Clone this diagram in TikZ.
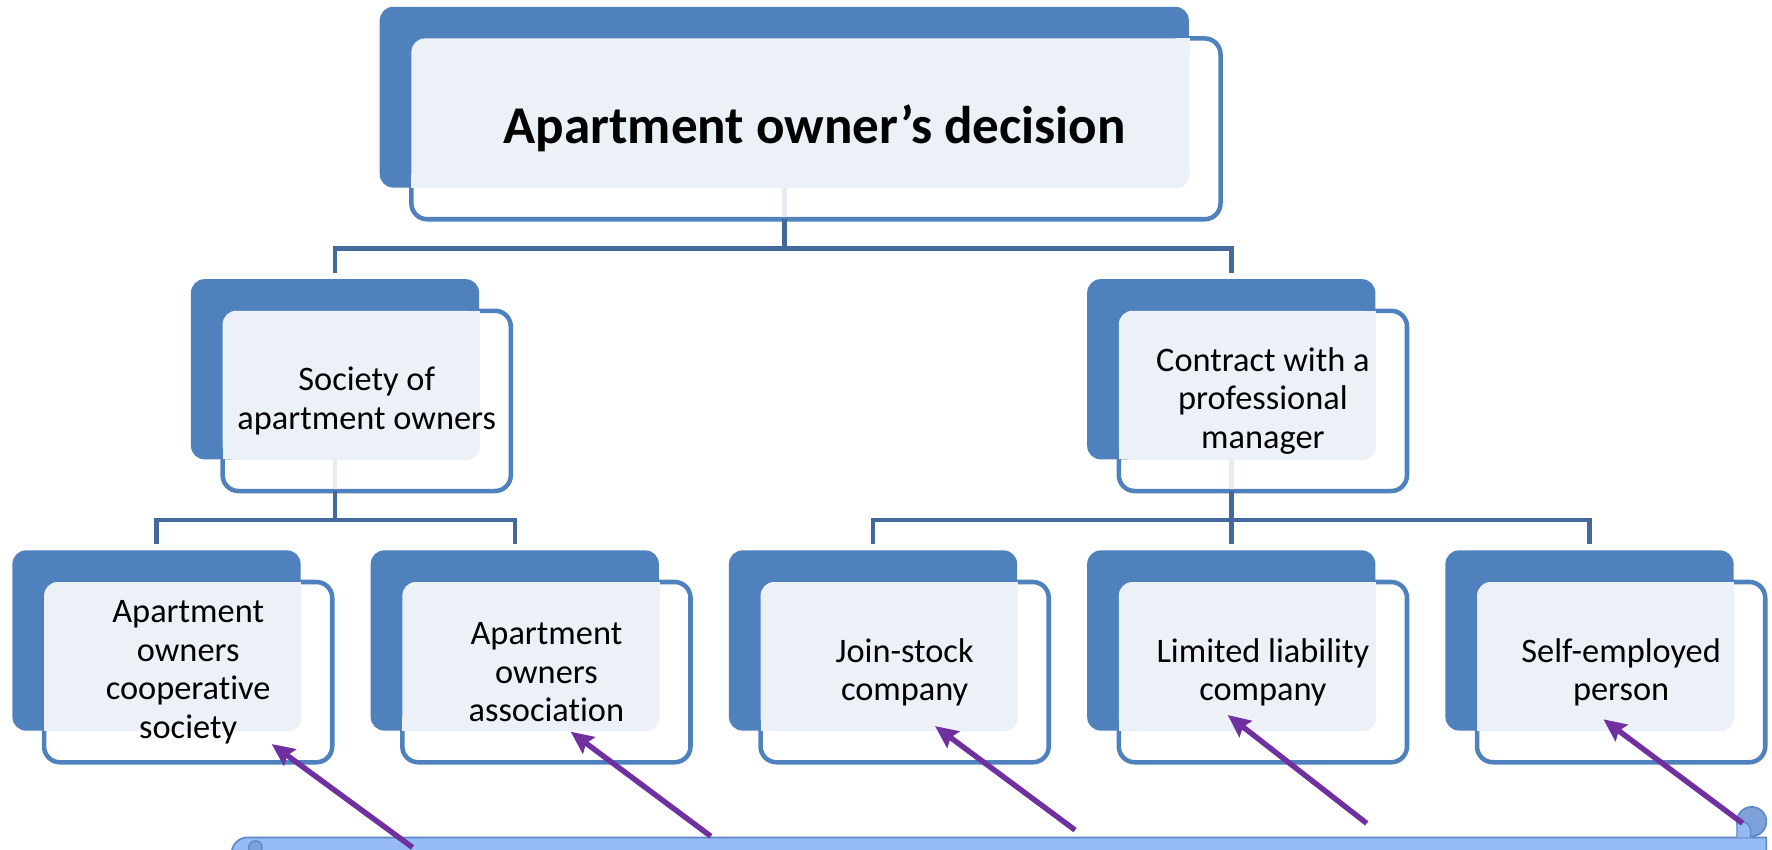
\documentclass[tikz,border=0pt]{standalone}
\usepackage{fontspec}
\setmainfont{Carlito}[Ligatures={NoCommon,NoContextual},RawFeature={-liga;-clig;-calt}]
\usetikzlibrary{arrows.meta}
\definecolor{dkblue}{HTML}{4F81BD}
\definecolor{ltfill}{HTML}{ECF1F8}
\definecolor{ltline}{HTML}{E6ECF5}
\definecolor{conn}{HTML}{42689C}
\definecolor{purp}{HTML}{7030A0}
\definecolor{scrollfill}{HTML}{95BAF4}
\definecolor{scrollln}{HTML}{5E89C8}
\definecolor{curlfill}{HTML}{7DA1D8}
\tikzset{
  backbox/.style={fill=dkblue, draw=none, rounded corners=12pt, inner sep=0pt, outer sep=0pt, anchor=north west},
  frontbox/.style={fill=white, draw=dkblue, line width=4pt, rounded corners=14pt, inner sep=0pt, outer sep=0pt, anchor=north west},
  connline/.style={draw=conn, line width=4pt},
  faintline/.style={draw=ltline, line width=4pt},
  lbl/.style={font=\fontsize{30.4}{34}\selectfont, align=center, inner sep=0pt},
  titlelbl/.style={font=\fontsize{47}{55}\selectfont\bfseries, align=center, inner sep=0pt},
  arr/.style={draw=purp, line width=4.8pt, -{Stealth[length=20pt,width=18pt,inset=3pt]}},
}
\newcommand\orgunit[5]{%
  \coordinate (#1c) at (#2,#3);
  \node[frontbox, minimum width=#4pt, minimum height=#5pt] (#1f) at ([shift={(28,28)}]#1c) {};
  \node[backbox, minimum width=#4pt, minimum height=#5pt] (#1b) at (#1c) {};
  \fill[ltfill, rounded corners=12pt] (#1f.north west) rectangle ([shift={(0.6,0.6)}]#1b.south east);
  \fill[ltfill] ([xshift=0.6pt]#1b.south east |- #1f.north west) rectangle ++(-12,12);
  \fill[ltfill] (#1f.north west |- #1b.south east) rectangle ++(12,-12);
}
\begin{document}
\begin{tikzpicture}[x=1pt,y=-1pt]
\useasboundingbox (0,0) rectangle (1568,752);
% boxes
\orgunit{top}{336}{6}{716}{160}
\orgunit{sa}{169}{247}{255}{159.5}
\orgunit{cp}{962}{247}{255}{159.5}
\orgunit{ka}{11}{487}{255}{159.5}
\orgunit{kb}{328}{487}{255}{159.5}
\orgunit{kc}{645}{487}{255}{159.5}
\orgunit{kd}{962}{487}{255}{159.5}
\orgunit{ke}{1279}{487}{255}{159.5}
% faint connector traces inside the parent boxes
\draw[faintline] (topb.south) -- ([yshift=2pt]topb.south |- topf.south);
\draw[faintline] (sab.south) -- ([yshift=2pt]sab.south |- saf.south);
\draw[faintline] (cpb.south) -- ([yshift=2pt]cpb.south |- cpf.south);
% connectors
\path (topb.south |- topf.south) ++(0,25.7) coordinate (j1);
\draw[connline] (topb.south |- topf.south) -- (j1);
\draw[connline] ([yshift=5.5pt]sab.north) |- (j1) -| ([yshift=5.5pt]cpb.north);
\path (sab.south |- saf.south) ++(0,25.7) coordinate (j2);
\draw[connline] (sab.south |- saf.south) -- (j2);
\draw[connline] ([yshift=5.5pt]kab.north) |- (j2) -| ([yshift=5.5pt]kbb.north);
\path (cpb.south |- cpf.south) ++(0,25.7) coordinate (j3);
\draw[connline] (cpb.south |- cpf.south) -- (j3);
\draw[connline] ([yshift=5.5pt]kcb.north) |- (j3) -| ([yshift=5.5pt]keb.north);
\draw[connline] (j3) -- ([yshift=5.5pt]kdb.north);
% texts
\node[titlelbl] (toptxt) at ([xshift=-1pt]topf.center) {Apartment owner’s decision};
\node[lbl] (satxt) at (saf.center) {Society of\\apartment owners};
\node[lbl] (cptxt) at (cpf.center) {Contract with a\\professional\\manager};
\node[lbl] (katxt) at (kaf.center) {Apartment\\owners\\cooperative\\society};
\node[lbl] (kbtxt) at (kbf.center) {Apartment\\owners\\association};
\node[lbl] (kctxt) at (kcf.center) {Join-stock\\company};
\node[lbl] (kdtxt) at (kdf.center) {Limited liability\\company};
\node[lbl] (ketxt) at (kef.center) {Self-employed\\person};
% scroll banner
\begin{scope}
\clip (0,0) rectangle (1568,752);
\draw[scrollln, fill=scrollfill, line width=1.5pt] (205,800) -- (205,755) arc[start angle=180, end angle=90, radius=14pt] -- (1563,741) -- (1563,800) -- cycle;
\draw[scrollln, fill=curlfill, line width=1.2pt] (226,750) circle[radius=6pt];
\end{scope}
\draw[scrollln, fill=curlfill, line width=1.5pt] (1550,727) circle[radius=13pt];
\draw[scrollln, fill=scrollfill, line width=1.2pt] (1537,741) -- (1537,728) .. controls (1544,725) and (1550,730) .. (1549,737) -- (1549,741);
% arrows
\coordinate (t1) at (365,749.8);
\coordinate (t2) at (629,740);
\coordinate (t3) at (951.3,734.5);
\coordinate (t4) at (1209.4,728.6);
\coordinate (t5) at (1542,728.5);
\coordinate (h1) at (240.4,658.4);
\coordinate (h2) at (505,647.5);
\coordinate (h3) at (827.4,642.5);
\coordinate (h4) at (1086.4,632.7);
\coordinate (h5) at (1418.8,636.5);
\foreach \i in {1,...,5} {\draw[arr] (t\i) -- (h\i);}
\end{tikzpicture}
\end{document}
